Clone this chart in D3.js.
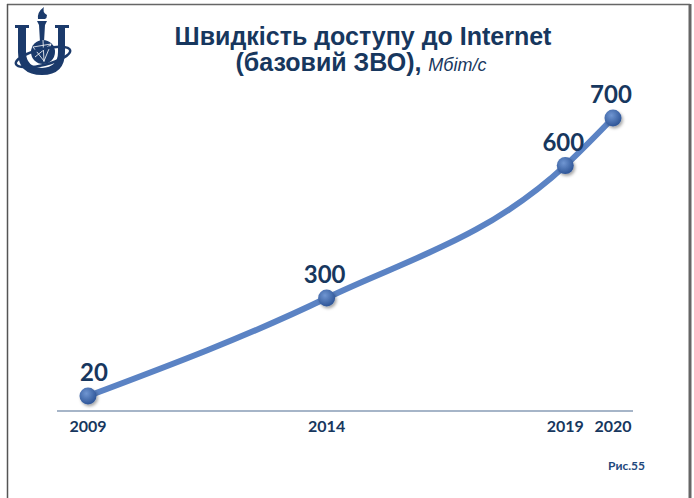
<!DOCTYPE html>
<html>
<head>
<meta charset="utf-8">
<style>
  body { margin: 0; background: #fff; }
  svg { display: block; }
</style>
</head>
<body>
<script src="https://cdn.jsdelivr.net/npm/d3@7/dist/d3.min.js"></script>
<script>
// chart data
var years = [2009, 2014, 2019, 2020];
var speeds = [20, 300, 600, 700];
var tickLabels = ["2009", "2014", "2019", "2020"];

var W = 694, H = 498;
var navy = "#17375e";

var svg = d3.select("body").append("svg")
  .attr("width", W)
  .attr("height", H);

var defs = svg.append("defs");
var grad = defs.append("radialGradient")
  .attr("id", "dot").attr("cx", "40%").attr("cy", "35%").attr("r", "65%");
grad.append("stop").attr("offset", "0%").attr("stop-color", "#7096d2");
grad.append("stop").attr("offset", "100%").attr("stop-color", "#2e5597");
var shadow = defs.append("filter").attr("id", "shd")
  .attr("x", "-50%").attr("y", "-50%").attr("width", "200%").attr("height", "200%");
shadow.append("feDropShadow").attr("dx", 1.5).attr("dy", 2).attr("stdDeviation", 1.5)
  .attr("flood-color", "#000").attr("flood-opacity", 0.35);

// page frame
svg.append("line").attr("x1", 7).attr("y1", 4.5).attr("x2", 690).attr("y2", 4.5)
  .attr("stroke", "#666").attr("stroke-width", 1.5);
svg.append("line").attr("x1", 7.5).attr("y1", 4).attr("x2", 7.5).attr("y2", H)
  .attr("stroke", "#555").attr("stroke-width", 1.5);
svg.append("line").attr("x1", 690).attr("y1", 4).attr("x2", 690).attr("y2", H)
  .attr("stroke", "#666").attr("stroke-width", 3);

// logo
var logo = svg.append("g").attr("fill", "#1b3a6b").attr("stroke", "#1b3a6b");
logo.append("path").attr("stroke", "none")
  .attr("d", "M15,25 L29,25 L29,28 L26,28 L26,52 Q26,67 42,68 Q58,67 58,52 L58,28 L55,28 L55,25 L69,25 L69,28 L65,28 L65,52 Q65,75 42,75 Q18,75 18,52 L18,28 L15,28 Z");
logo.append("path").attr("stroke", "none")
  .attr("d", "M37,21 L47,21 L45,25 L44,42 L40,42 L39,25 Z");
logo.append("path").attr("stroke", "none")
  .attr("d", "M38,19 Q37,12 44,7 Q42,12 47,15 Q47,18 45,19 Z");
logo.append("circle").attr("cx", 43).attr("cy", 52).attr("r", 12).attr("stroke", "none");
logo.append("path").attr("fill", "none").attr("stroke", "#ffffff").attr("stroke-width", 0.8)
  .attr("d", "M33,47 L51,44 L44,61 Z M35,57 L51,44 M43,40 L44,62");
logo.append("ellipse").attr("cx", 43).attr("cy", 57).attr("rx", 28).attr("ry", 8)
  .attr("transform", "rotate(-14,43,57)")
  .attr("fill", "none").attr("stroke-width", 2.5);

// title
var title = svg.append("text")
  .attr("text-anchor", "middle")
  .attr("font-family", "'Liberation Sans', Arial, sans-serif")
  .attr("font-weight", "bold")
  .attr("fill", navy);
title.append("tspan").attr("x", 363).attr("y", 45).attr("font-size", 25)
  .text("Швидкість доступу до Internet");
var t2 = title.append("tspan").attr("x", 361).attr("y", 71).attr("font-size", 25);
t2.append("tspan").text("(базовий ЗВО), ");
t2.append("tspan").attr("font-weight", "normal").attr("font-style", "italic")
  .attr("font-size", 18).text("Мбіт/с");

// scales
var x = d3.scaleLinear().domain([2009, 2020]).range([88, 613]);
var y = d3.scalePow().exponent(1.2).domain([0, 700]).range([400, 118]);
var baseY = y(0) + 11;

// axis line
svg.append("line")
  .attr("x1", 57).attr("x2", 633)
  .attr("y1", baseY).attr("y2", baseY)
  .attr("stroke", "#4f6d92").attr("stroke-width", 1.2);

// tick labels
svg.selectAll(".tick-label")
  .data(years)
  .enter().append("text")
  .attr("class", "tick-label")
  .attr("x", function(d) { return x(d); })
  .attr("y", baseY + 21)
  .attr("text-anchor", "middle")
  .attr("font-family", "Lato, 'Open Sans', sans-serif")
  .attr("font-weight", "bold")
  .attr("font-size", 16)
  .attr("fill", navy)
  .text(function(d, i) { return tickLabels[i]; });

var data = years.map(function(d, i) { return {year: d, v: speeds[i]}; });

// line
var line = d3.line()
  .x(function(d) { return x(d.year); })
  .y(function(d) { return y(d.v); })
  .curve(d3.curveMonotoneX);

svg.append("path")
  .datum(data)
  .attr("d", line)
  .attr("fill", "none")
  .attr("stroke", "#5b83c4")
  .attr("stroke-width", 6)
  .attr("stroke-linecap", "round");

// markers
svg.selectAll(".dot")
  .data(data)
  .enter().append("circle")
  .attr("class", "dot")
  .attr("cx", function(d) { return x(d.year); })
  .attr("cy", function(d) { return y(d.v); })
  .attr("r", 8.5)
  .attr("fill", "url(#dot)")
  .attr("filter", "url(#shd)");

// value labels
svg.selectAll(".val")
  .data(data)
  .enter().append("text")
  .attr("class", "val")
  .attr("x", function(d) { return x(d.year) + (d.v < 100 ? 6 : -2); })
  .attr("y", function(d) { return y(d.v) - 15; })
  .attr("text-anchor", "middle")
  .attr("font-family", "Lato, 'Open Sans', sans-serif")
  .attr("font-weight", "bold")
  .attr("font-size", 24)
  .attr("fill", navy)
  .text(function(d) { return d.v; });

// figure number
svg.append("text")
  .attr("x", 645).attr("y", 470)
  .attr("text-anchor", "end")
  .attr("font-family", "Lato, 'Open Sans', sans-serif")
  .attr("font-weight", "bold")
  .attr("font-size", 12)
  .attr("fill", "#1f497d")
  .text("Рис.55");
</script>
</body>
</html>
